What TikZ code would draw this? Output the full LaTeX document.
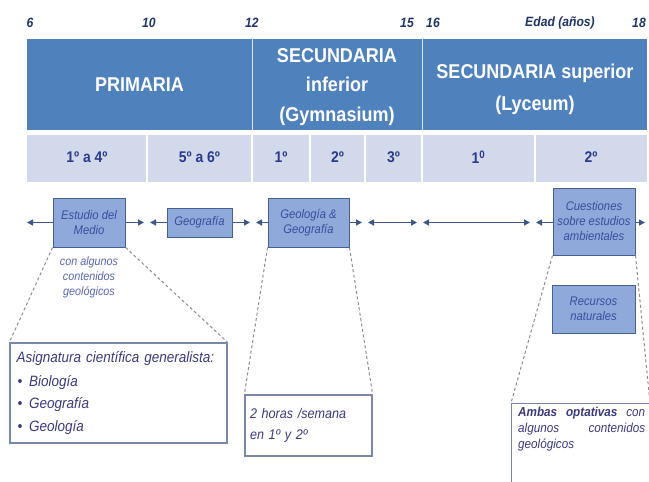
\documentclass[tikz,border=0pt]{standalone}
\usepackage{fontspec}
\setmainfont[FakeStretch=0.9]{Liberation Sans}
\usetikzlibrary{arrows.meta}
\definecolor{bandblue}{HTML}{4F81BD}
\definecolor{gradebg}{HTML}{D2D9EA}
\definecolor{gradetxt}{HTML}{2B3A8A}
\definecolor{agetxt}{HTML}{1F3466}
\definecolor{boxfill}{HTML}{8FAADA}
\definecolor{boxline}{HTML}{48608E}
\definecolor{boxtxt}{HTML}{3B4C9E}
\definecolor{notetxt}{HTML}{3A3A7E}
\definecolor{noteline}{HTML}{7A88A8}
\definecolor{tline}{HTML}{3E5683}
\definecolor{dashgrey}{HTML}{8C8C8C}
\tikzset{
  agelbl/.style={font=\fontsize{13.5}{15}\selectfont\bfseries\itshape, text=agetxt, inner sep=0pt},
  headlbl/.style={font=\fontsize{20}{24}\selectfont\bfseries, text=white, align=center, inner sep=0pt},
  gradelbl/.style={font=\fontsize{15.5}{17}\selectfont\bfseries, text=gradetxt, inner sep=0pt},
  subjbox/.style={draw=boxline, line width=1pt, fill=boxfill, text=boxtxt,
    font=\fontsize{12.5}{15}\selectfont\itshape, align=center, inner sep=0pt},
  notebox/.style={draw=noteline, line width=1.3pt, fill=white, text=notetxt, inner sep=0pt},
  tip/.tip={Triangle[length=6pt,width=6pt]},
  tlarrow/.style={draw=tline, line width=1.6pt, -tip},
  zoomline/.style={draw=dashgrey, line width=1pt, dash pattern=on 3pt off 2.5pt},
}
\begin{document}
\begin{tikzpicture}[x=1pt,y=-1pt]
\useasboundingbox (0,0) rectangle (649,482);
\clip (0,0) rectangle (649,482);

% ages along the top
\node[agelbl] (a6)  at (30,23)  {6};
\node[agelbl] (a10) at (149,23) {10};
\node[agelbl] (a12) at (252,23) {12};
\node[agelbl] (a15) at (407,23) {15};
\node[agelbl] (a16) at (433,23) {16};
\node[agelbl] (edad) at (560,23) {Edad (años)};
\node[agelbl] (a18) at (639,23) {18};

% school stages band
\fill[bandblue] (27,39) rectangle (647,130);
\draw[white!80!bandblue, line width=0.8pt] (252,39) -- (252,130) (422,39) -- (422,130);
\node[headlbl] (prim) at (139.5,85) {PRIMARIA};
\node[headlbl, font=\fontsize{20}{29.5}\selectfont\bfseries] (secinf) at (337,87) {SECUNDARIA\\inferior\\(Gymnasium)};
\node[headlbl, font=\fontsize{20}{32}\selectfont\bfseries] (secsup) at (535,89) {SECUNDARIA superior\\(Lyceum)};

% school years band
\fill[gradebg] (27,135) rectangle (647,182);
\foreach \sx in {147,252,310,365,422,535}
  \draw[white, line width=1.5pt] (\sx,135) -- (\sx,182);
\node[gradelbl] (g1) at (87,157)    {1º a 4º};
\node[gradelbl] (g2) at (199.5,157) {5º a 6º};
\node[gradelbl] (g3) at (281,157)   {1º};
\node[gradelbl] (g4) at (337.5,157) {2º};
\node[gradelbl] (g5) at (393.5,157) {3º};
\node[gradelbl] (g6) at (478.5,157) {1\textsuperscript{0}};
\node[gradelbl] (g7) at (591,157)   {2º};

% subjects on the time line
\node[subjbox, minimum width=72pt, minimum height=49pt] (estudio) at (89,222.5) {Estudio del\\Medio};
\node[subjbox, minimum width=65pt, minimum height=29pt] (geog) at (199.5,222.5) {Geografía};
\node[subjbox, minimum width=81pt, minimum height=49pt] (geol) at (308.5,222.5) {Geología \&\\Geografía};
\node[subjbox, minimum width=82pt, minimum height=67pt] (cuest) at (594,221.5) {Cuestiones\\sobre estudios\\ambientales};
\node[subjbox, minimum width=83pt, minimum height=48pt] (recur) at (593.5,309) {Recursos\\naturales};

% time line arrows
\coordinate (tl0) at (27,222.5);
\coordinate (b10r) at (144,222.5);
\coordinate (b10l) at (150,222.5);
\coordinate (b12r) at (250,222.5);
\coordinate (b12l) at (256,222.5);
\coordinate (b15r) at (362,222.5);
\coordinate (b15l) at (368,222.5);
\coordinate (b16r) at (417,222.5);
\coordinate (b16l) at (423,222.5);
\coordinate (b17r) at (530,222.5);
\coordinate (b17l) at (536,222.5);
\coordinate (tl1) at (645,222.5);
\draw[tlarrow] (estudio.west) -- (tl0);
\draw[tlarrow] (estudio.east) -- (b10r);
\draw[tlarrow] (geog.west) -- (b10l);
\draw[tlarrow] (geog.east) -- (b12r);
\draw[tlarrow] (geol.west) -- (b12l);
\draw[tlarrow] (geol.east) -- (b15r);
\draw[tlarrow, tip-tip] (b15l) -- (b16r);
\draw[tlarrow, tip-tip] (b16l) -- (b17r);
\draw[tlarrow] (cuest.west |- tl1) -- (b17l);
\draw[tlarrow] (cuest.east |- tl1) -- (tl1);

\node[text=boxtxt!85!white, font=\fontsize{12}{15}\selectfont\itshape, align=center, inner sep=0pt] (algunos) at (89,277.5) {con algunos\\contenidos\\geológicos};

% detail notes
\node[notebox, minimum width=217pt, minimum height=100pt, text width=204pt, align=left,
      font=\fontsize{15}{22.5}\selectfont\itshape] (asig) at (118.5,393)
  {Asignatura científica generalista:\\[1pt]
   \hspace*{1pt}\textbullet\hspace{7pt}Biología\\
   \hspace*{1pt}\textbullet\hspace{7pt}Geografía\\
   \hspace*{1pt}\textbullet\hspace{7pt}Geología};
\node[notebox, minimum width=127pt, minimum height=61pt, text width=117pt, align=left,
      font=\fontsize{14}{21}\selectfont\itshape] (horas) at (308.5,425.5)
  {2 horas /semana\\en 1º y 2º};
\node[notebox, anchor=north west, minimum width=160pt, minimum height=100pt] (ambas) at (511,403) {};
\node[text=notetxt, anchor=north west, inner sep=0pt, text width=127pt,
      font=\fontsize{13}{16}\selectfont\itshape] (ambastxt) at (518,407)
  {\hbox to 127pt{\textbf{Ambas}\hfill\textbf{optativas}\hfill con}
   \hbox to 127pt{algunos\hfill contenidos}
   \hbox to 127pt{geológicos\hfill}};
\coordinate (ambasNE) at (650,403);

% dashed zoom lines from subjects to their notes
\draw[zoomline] (estudio.south west) -- (asig.north west);
\draw[zoomline] (estudio.south east) -- (asig.north east);
\draw[zoomline] (geol.south west) -- (horas.north west);
\draw[zoomline] (geol.south east) -- (horas.north east);
\draw[zoomline] (cuest.south west) -- (ambas.north west);
\draw[zoomline] (cuest.south east) -- (ambasNE);
\end{tikzpicture}
\end{document}
